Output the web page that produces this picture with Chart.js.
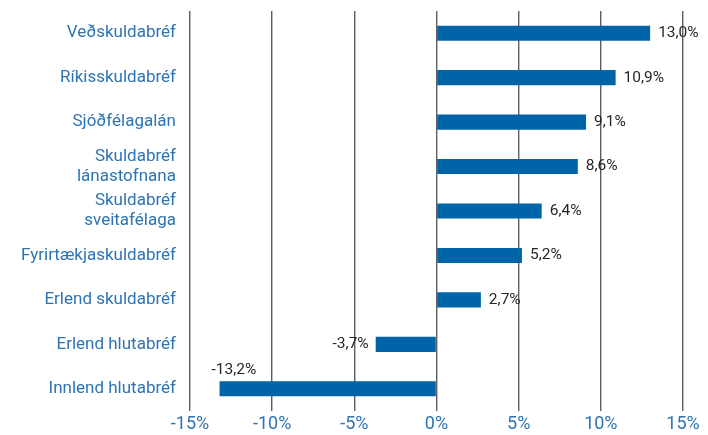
<!DOCTYPE html>
<html>
<head>
<meta charset="utf-8">
<script src="https://cdn.jsdelivr.net/npm/chart.js@4/dist/chart.umd.min.js"></script>
<style>
  html, body { margin: 0; padding: 0; background: #fff; }
  #wrap { width: 708px; height: 435px; position: relative; }
</style>
</head>
<body>
<div id="wrap"><canvas id="c"></canvas></div>
<script>
// Ávöxtun eftir eignaflokkum (%)
const categories = [
  "Veðskuldabréf",
  "Ríkisskuldabréf",
  "Sjóðfélagalán",
  ["Skuldabréf", "lánastofnana"],
  ["Skuldabréf", "sveitafélaga"],
  "Fyrirtækjaskuldabréf",
  "Erlend skuldabréf",
  "Erlend hlutabréf",
  "Innlend hlutabréf",
];
const returns = [13.0, 10.9, 9.1, 8.6, 6.4, 5.2, 2.7, -3.7, -13.2];
const xTicks = [-15, -10, -5, 0, 5, 10, 15];

const BLUE = "#0064a8";
const LABEL_BLUE = "#2e74b5";
const FONT = "Roboto, 'DejaVu Sans', sans-serif";

const fmt = v => v.toFixed(1).replace(".", ",") + "%";

// value labels: right of positive bars, left of negative ones (above if no room)
const valueLabels = {
  id: "valueLabels",
  afterDatasetsDraw(chart) {
    const { ctx, chartArea } = chart;
    const meta = chart.getDatasetMeta(0);
    ctx.save();
    ctx.font = "15.5px " + FONT;
    ctx.fillStyle = "#262626";
    ctx.textBaseline = "middle";
    meta.data.forEach((bar, i) => {
      const v = returns[i], txt = fmt(v), w = ctx.measureText(txt).width;
      if (v >= 0) {
        ctx.textAlign = "left";
        ctx.fillText(txt, bar.x + 8, bar.y);
      } else if (bar.x - 7 - w > chartArea.left) {
        ctx.textAlign = "right";
        ctx.fillText(txt, bar.x - 7, bar.y);
      } else {
        ctx.textAlign = "left";
        ctx.fillText(txt, bar.x - 8, bar.y - 19);
      }
    });
    ctx.restore();
  },
};

new Chart(document.getElementById("c"), {
  type: "bar",
  data: {
    labels: categories,
    datasets: [{ data: returns, backgroundColor: BLUE, categoryPercentage: 1, barPercentage: 0.34 }],
  },
  options: {
    indexAxis: "y",
    responsive: true,
    maintainAspectRatio: false,
    animation: false,
    layout: { autoPadding: false, padding: { top: 11, right: 25, left: 0, bottom: 0 } },
    plugins: { legend: { display: false }, tooltip: { enabled: false } },
    scales: {
      x: {
        min: -15, max: 15,
        afterBuildTicks: s => { s.ticks = xTicks.map(v => ({ value: v })); },
        afterFit: s => { s.height = 24; s.paddingLeft = 0; s.paddingRight = 0; },
        grid: { color: "#5e5e5e", lineWidth: 1.4, drawTicks: false },
        border: { display: false },
        ticks: { color: LABEL_BLUE, font: { family: FONT, size: 18 }, padding: 3,
          callback: v => v + "%" },
      },
      y: {
        afterFit: s => { s.width = 190; s.paddingTop = 0; s.paddingBottom = 0; },
        grid: { display: false },
        border: { display: false },
        ticks: { color: LABEL_BLUE, font: { family: FONT, size: 17, lineHeight: 1.2 }, padding: 6,
          autoSkip: false },
      },
    },
  },
  plugins: [valueLabels],
});
</script>
</body>
</html>
